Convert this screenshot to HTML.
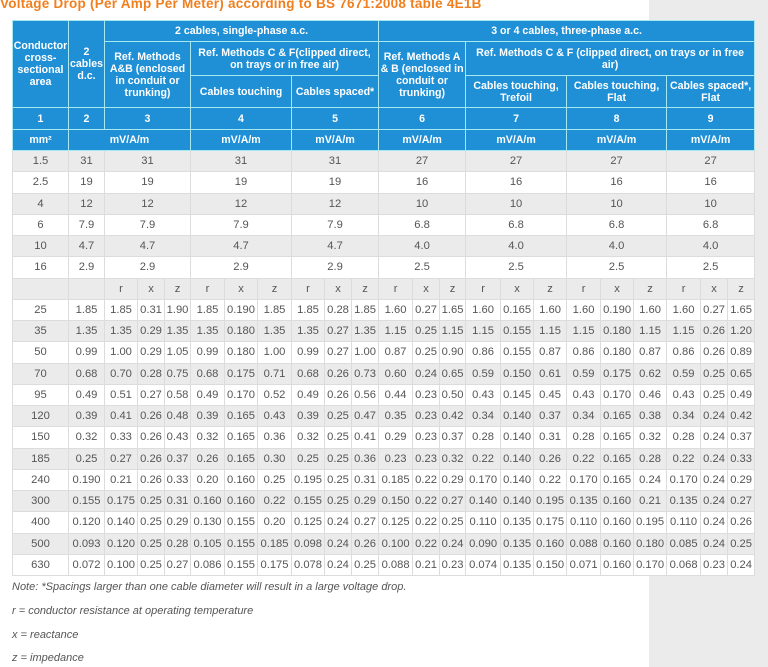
<!DOCTYPE html>
<html><head><meta charset="utf-8">
<style>
html,body{margin:0;padding:0}
body{width:768px;height:667px;background:#ebebeb;position:relative;overflow:hidden;font-family:"Liberation Sans",Arial,sans-serif}
#white{position:absolute;left:0;top:0;width:649px;height:667px;background:#fff}
#title{position:absolute;left:0;top:-4px;font-weight:bold;font-size:13.5px;color:#f07f1e;white-space:nowrap;letter-spacing:0.25px}
table{position:absolute;left:12px;top:20px;border-collapse:collapse;table-layout:fixed;width:742px;background:#fff;font-size:11.2px;color:#555}
td,th{padding:0;text-align:center;border:1px solid #dcdcdc;overflow:hidden;white-space:nowrap}
th{background:#1f8fd6;color:#fff;font-weight:bold;font-size:10.6px;border:1px solid #a6e8f0;line-height:12px;white-space:normal}
tr.g td{background:#ebebeb}
tr.d{height:21.25px}
.note{position:absolute;left:12px;font-style:italic;font-size:11px;color:#555;white-space:nowrap}
</style></head><body>
<div id="white"></div>
<div id="title">Voltage Drop (Per Amp Per Meter) according to BS 7671:2008 table 4E1B</div>
<table>
<colgroup>
<col style="width:56px"><col style="width:36px">
<col style="width:33px"><col style="width:27px"><col style="width:26px">
<col style="width:34px"><col style="width:33px"><col style="width:34px">
<col style="width:33px"><col style="width:27px"><col style="width:27px">
<col style="width:34px"><col style="width:27px"><col style="width:26px">
<col style="width:35px"><col style="width:33px"><col style="width:33px">
<col style="width:34px"><col style="width:33px"><col style="width:33px">
<col style="width:34px"><col style="width:27px"><col style="width:27px">
</colgroup>
<tr style="height:21px"><th rowspan="3">Conductor cross-sectional area</th><th rowspan="3">2 cables d.c.</th><th colspan="9">2 cables, single-phase a.c.</th><th colspan="12">3 or 4 cables, three-phase a.c.</th></tr>
<tr style="height:34px"><th colspan="3" rowspan="2">Ref. Methods A&amp;B (enclosed in conduit or trunking)</th><th colspan="6">Ref. Methods C &amp; F(clipped direct, on trays or in free air)</th><th colspan="3" rowspan="2">Ref. Methods A &amp; B (enclosed in conduit or trunking)</th><th colspan="9">Ref. Methods C &amp; F (clipped direct, on trays or in free<br>air)</th></tr>
<tr style="height:32px"><th colspan="3">Cables touching</th><th colspan="3">Cables spaced*</th><th colspan="3">Cables touching, Trefoil</th><th colspan="3">Cables touching, Flat</th><th colspan="3">Cables spaced*, Flat</th></tr>
<tr style="height:22px"><th>1</th><th>2</th><th colspan="3">3</th><th colspan="3">4</th><th colspan="3">5</th><th colspan="3">6</th><th colspan="3">7</th><th colspan="3">8</th><th colspan="3">9</th></tr>
<tr style="height:21px"><th>mm²</th><th colspan="4">mV/A/m</th><th colspan="3">mV/A/m</th><th colspan="3">mV/A/m</th><th colspan="3">mV/A/m</th><th colspan="3">mV/A/m</th><th colspan="3">mV/A/m</th><th colspan="3">mV/A/m</th></tr>
<tr class="d g"><td>1.5</td><td>31</td><td colspan="3">31</td><td colspan="3">31</td><td colspan="3">31</td><td colspan="3">27</td><td colspan="3">27</td><td colspan="3">27</td><td colspan="3">27</td></tr>
<tr class="d"><td>2.5</td><td>19</td><td colspan="3">19</td><td colspan="3">19</td><td colspan="3">19</td><td colspan="3">16</td><td colspan="3">16</td><td colspan="3">16</td><td colspan="3">16</td></tr>
<tr class="d g"><td>4</td><td>12</td><td colspan="3">12</td><td colspan="3">12</td><td colspan="3">12</td><td colspan="3">10</td><td colspan="3">10</td><td colspan="3">10</td><td colspan="3">10</td></tr>
<tr class="d"><td>6</td><td>7.9</td><td colspan="3">7.9</td><td colspan="3">7.9</td><td colspan="3">7.9</td><td colspan="3">6.8</td><td colspan="3">6.8</td><td colspan="3">6.8</td><td colspan="3">6.8</td></tr>
<tr class="d g"><td>10</td><td>4.7</td><td colspan="3">4.7</td><td colspan="3">4.7</td><td colspan="3">4.7</td><td colspan="3">4.0</td><td colspan="3">4.0</td><td colspan="3">4.0</td><td colspan="3">4.0</td></tr>
<tr class="d"><td>16</td><td>2.9</td><td colspan="3">2.9</td><td colspan="3">2.9</td><td colspan="3">2.9</td><td colspan="3">2.5</td><td colspan="3">2.5</td><td colspan="3">2.5</td><td colspan="3">2.5</td></tr>
<tr class="d g"><td></td><td></td><td>r</td><td>x</td><td>z</td><td>r</td><td>x</td><td>z</td><td>r</td><td>x</td><td>z</td><td>r</td><td>x</td><td>z</td><td>r</td><td>x</td><td>z</td><td>r</td><td>x</td><td>z</td><td>r</td><td>x</td><td>z</td></tr>
<tr class="d"><td>25</td><td>1.85</td><td>1.85</td><td>0.31</td><td>1.90</td><td>1.85</td><td>0.190</td><td>1.85</td><td>1.85</td><td>0.28</td><td>1.85</td><td>1.60</td><td>0.27</td><td>1.65</td><td>1.60</td><td>0.165</td><td>1.60</td><td>1.60</td><td>0.190</td><td>1.60</td><td>1.60</td><td>0.27</td><td>1.65</td></tr>
<tr class="d g"><td>35</td><td>1.35</td><td>1.35</td><td>0.29</td><td>1.35</td><td>1.35</td><td>0.180</td><td>1.35</td><td>1.35</td><td>0.27</td><td>1.35</td><td>1.15</td><td>0.25</td><td>1.15</td><td>1.15</td><td>0.155</td><td>1.15</td><td>1.15</td><td>0.180</td><td>1.15</td><td>1.15</td><td>0.26</td><td>1.20</td></tr>
<tr class="d"><td>50</td><td>0.99</td><td>1.00</td><td>0.29</td><td>1.05</td><td>0.99</td><td>0.180</td><td>1.00</td><td>0.99</td><td>0.27</td><td>1.00</td><td>0.87</td><td>0.25</td><td>0.90</td><td>0.86</td><td>0.155</td><td>0.87</td><td>0.86</td><td>0.180</td><td>0.87</td><td>0.86</td><td>0.26</td><td>0.89</td></tr>
<tr class="d g"><td>70</td><td>0.68</td><td>0.70</td><td>0.28</td><td>0.75</td><td>0.68</td><td>0.175</td><td>0.71</td><td>0.68</td><td>0.26</td><td>0.73</td><td>0.60</td><td>0.24</td><td>0.65</td><td>0.59</td><td>0.150</td><td>0.61</td><td>0.59</td><td>0.175</td><td>0.62</td><td>0.59</td><td>0.25</td><td>0.65</td></tr>
<tr class="d"><td>95</td><td>0.49</td><td>0.51</td><td>0.27</td><td>0.58</td><td>0.49</td><td>0.170</td><td>0.52</td><td>0.49</td><td>0.26</td><td>0.56</td><td>0.44</td><td>0.23</td><td>0.50</td><td>0.43</td><td>0.145</td><td>0.45</td><td>0.43</td><td>0.170</td><td>0.46</td><td>0.43</td><td>0.25</td><td>0.49</td></tr>
<tr class="d g"><td>120</td><td>0.39</td><td>0.41</td><td>0.26</td><td>0.48</td><td>0.39</td><td>0.165</td><td>0.43</td><td>0.39</td><td>0.25</td><td>0.47</td><td>0.35</td><td>0.23</td><td>0.42</td><td>0.34</td><td>0.140</td><td>0.37</td><td>0.34</td><td>0.165</td><td>0.38</td><td>0.34</td><td>0.24</td><td>0.42</td></tr>
<tr class="d"><td>150</td><td>0.32</td><td>0.33</td><td>0.26</td><td>0.43</td><td>0.32</td><td>0.165</td><td>0.36</td><td>0.32</td><td>0.25</td><td>0.41</td><td>0.29</td><td>0.23</td><td>0.37</td><td>0.28</td><td>0.140</td><td>0.31</td><td>0.28</td><td>0.165</td><td>0.32</td><td>0.28</td><td>0.24</td><td>0.37</td></tr>
<tr class="d g"><td>185</td><td>0.25</td><td>0.27</td><td>0.26</td><td>0.37</td><td>0.26</td><td>0.165</td><td>0.30</td><td>0.25</td><td>0.25</td><td>0.36</td><td>0.23</td><td>0.23</td><td>0.32</td><td>0.22</td><td>0.140</td><td>0.26</td><td>0.22</td><td>0.165</td><td>0.28</td><td>0.22</td><td>0.24</td><td>0.33</td></tr>
<tr class="d"><td>240</td><td>0.190</td><td>0.21</td><td>0.26</td><td>0.33</td><td>0.20</td><td>0.160</td><td>0.25</td><td>0.195</td><td>0.25</td><td>0.31</td><td>0.185</td><td>0.22</td><td>0.29</td><td>0.170</td><td>0.140</td><td>0.22</td><td>0.170</td><td>0.165</td><td>0.24</td><td>0.170</td><td>0.24</td><td>0.29</td></tr>
<tr class="d g"><td>300</td><td>0.155</td><td>0.175</td><td>0.25</td><td>0.31</td><td>0.160</td><td>0.160</td><td>0.22</td><td>0.155</td><td>0.25</td><td>0.29</td><td>0.150</td><td>0.22</td><td>0.27</td><td>0.140</td><td>0.140</td><td>0.195</td><td>0.135</td><td>0.160</td><td>0.21</td><td>0.135</td><td>0.24</td><td>0.27</td></tr>
<tr class="d"><td>400</td><td>0.120</td><td>0.140</td><td>0.25</td><td>0.29</td><td>0.130</td><td>0.155</td><td>0.20</td><td>0.125</td><td>0.24</td><td>0.27</td><td>0.125</td><td>0.22</td><td>0.25</td><td>0.110</td><td>0.135</td><td>0.175</td><td>0.110</td><td>0.160</td><td>0.195</td><td>0.110</td><td>0.24</td><td>0.26</td></tr>
<tr class="d g"><td>500</td><td>0.093</td><td>0.120</td><td>0.25</td><td>0.28</td><td>0.105</td><td>0.155</td><td>0.185</td><td>0.098</td><td>0.24</td><td>0.26</td><td>0.100</td><td>0.22</td><td>0.24</td><td>0.090</td><td>0.135</td><td>0.160</td><td>0.088</td><td>0.160</td><td>0.180</td><td>0.085</td><td>0.24</td><td>0.25</td></tr>
<tr class="d"><td>630</td><td>0.072</td><td>0.100</td><td>0.25</td><td>0.27</td><td>0.086</td><td>0.155</td><td>0.175</td><td>0.078</td><td>0.24</td><td>0.25</td><td>0.088</td><td>0.21</td><td>0.23</td><td>0.074</td><td>0.135</td><td>0.150</td><td>0.071</td><td>0.160</td><td>0.170</td><td>0.068</td><td>0.23</td><td>0.24</td></tr>
</table>
<div class="note" style="top:581px">Note: *Spacings larger than one cable diameter will result in a large voltage drop.</div>
<div class="note" style="top:605px">r = conductor resistance at operating temperature</div>
<div class="note" style="top:629px">x = reactance</div>
<div class="note" style="top:652px">z = impedance</div>
</body></html>
